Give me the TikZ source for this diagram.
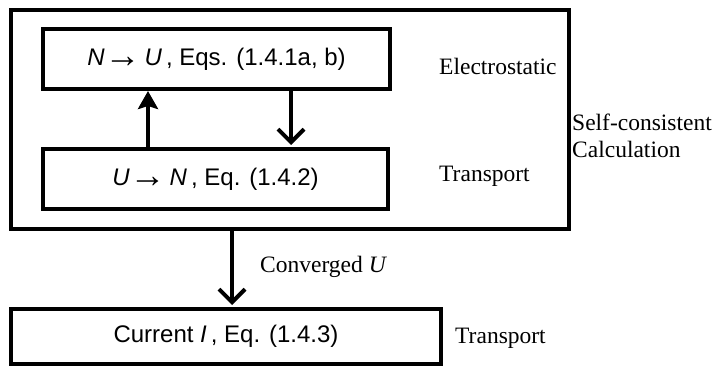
\documentclass[tikz,border=0pt]{standalone}
\usepackage{fontspec}
\setmainfont{Liberation Serif}
\setsansfont{Liberation Sans}
\usetikzlibrary{arrows.meta}
\newcommand{\rarr}{\smash{\raisebox{-2pt}{\fontsize{36}{38}\selectfont →}}}
\begin{document}
\begin{tikzpicture}[x=1pt,y=-1pt,
  box/.style={draw, line width=4pt, rectangle, inner sep=0pt, font=\sffamily\fontsize{24}{28}\selectfont},
  lbl/.style={font=\fontsize{23.5}{27}\selectfont, inner sep=0pt},
  conn/.style={line width=4pt},
  uptip/.style={-{Stealth[length=18pt,width=20pt,inset=3pt]}},
  downtip/.style={-{Straight Barb[length=13pt,width=26pt]}}
]
\useasboundingbox (0,0) rectangle (723,366);
\node[box, minimum width=558pt, minimum height=219pt] (outer) at (290,120) {};
\node[box, minimum width=347pt, minimum height=60pt] (top) at (216.5,59) {\textit{N}\rarr\,\textit{U}\,, Eqs. (1.4.1a, b)};
\node[box, minimum width=345pt, minimum height=60pt] (mid) at (215.5,179) {\textit{U}\rarr\,\textit{N}\,, Eq. (1.4.2)};
\node[box, minimum width=430pt, minimum height=55pt] (bot) at (226,336.5) {Current \textit{I}\,, Eq. (1.4.3)};
\node[lbl, anchor=west] (es) at (439,66) {Electrostatic};
\node[lbl, anchor=west] (tr1) at (439,176) {Transport};
\node[lbl, anchor=west] (tr2) at (455,338) {Transport};
\node[lbl, anchor=west, align=left] (sc) at (572,136) {Self-consistent\\Calculation};
\node[lbl, anchor=west] (cv) at (260,267) {Converged \textit{U}};
\draw[conn, uptip] (mid.north -| 148,0) -- (top.south -| 148,0);
\draw[conn, downtip] (top.south -| 291,0) -- ([yshift=2pt]mid.north -| 291,0);
\draw[conn, downtip] (outer.south -| 232,0) -- ([yshift=2pt]bot.north -| 232,0);
\end{tikzpicture}
\end{document}
